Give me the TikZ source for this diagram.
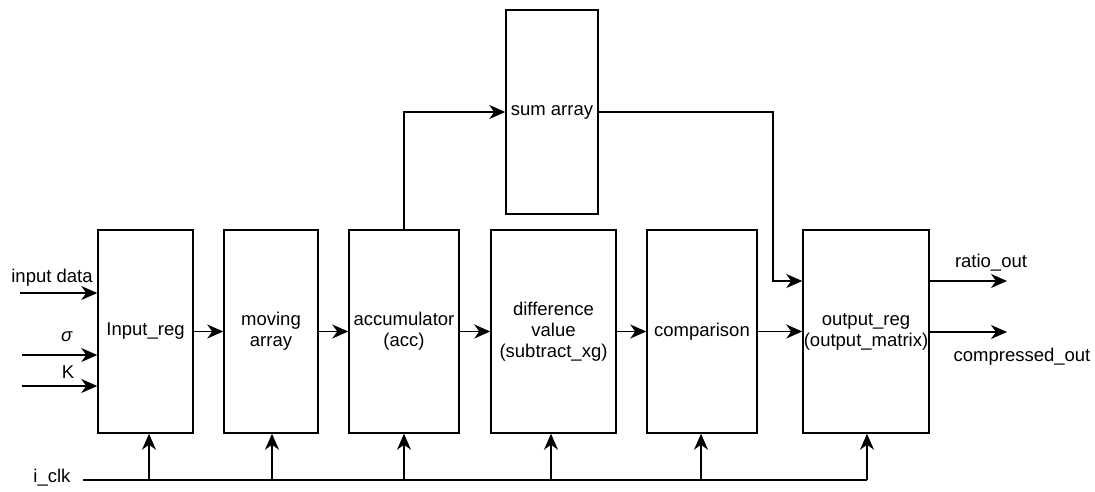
\documentclass[tikz,border=0pt]{standalone}
\usepackage{fontspec}
\setmainfont{Liberation Sans}
\usetikzlibrary{arrows.meta}
\begin{document}
\begin{tikzpicture}[x=1pt,y=-1pt,
  font=\fontsize{18.5}{21}\selectfont,
  blk/.style={draw,line width=1.5pt,rectangle,inner sep=0pt,minimum height=203pt,align=center},
  conn/.style={line width=1.5pt,-{Stealth[length=16pt,width=14pt,inset=5pt]}},
  wire/.style={line width=1.5pt},
  lbl/.style={inner sep=0pt,anchor=center}]
\useasboundingbox (0,0) rectangle (1095,491);
% blocks
\node[blk,minimum width=95pt]  (inreg) at (145.5,331.5) {Input\_reg};
\node[blk,minimum width=94pt]  (mov)   at (271,331.5)   {moving\\array};
\node[blk,minimum width=110pt] (acc)   at (404,331.5)   {accumulator\\(acc)};
\node[blk,minimum width=125pt] (diff)  at (553.5,331.5) {difference\\value\\(subtract\_xg)};
\node[blk,minimum width=110pt] (cmp)   at (702,331.5)   {comparison};
\node[blk,minimum width=126pt] (out)   at (866,331.5)   {output\_reg\\(output\_matrix)};
\node[blk,minimum width=92pt,minimum height=204pt] (sum) at (552,112) {sum array};
% labels
\node[lbl] (tin)  at (52,278)   {input data};
\node[lbl] (tsig) at (67,337)   {\textit{σ}};
\node[lbl] (tk)   at (68,372)   {K};
\node[lbl] (tclk) at (52,478)   {i\_clk};
\node[lbl] (trat) at (991,263)  {ratio\_out};
\node[lbl] (tcmp) at (1022,357) {compressed\_out};
% inputs
\coordinate (i1) at (20,293);
\coordinate (i2) at (22,355);
\coordinate (i3) at (22,386);
\draw[conn] (i1) -- (i1 -| inreg.west);
\draw[conn] (i2) -- (i2 -| inreg.west);
\draw[conn] (i3) -- (i3 -| inreg.west);
% chain
\draw[conn] (inreg.east) -- (mov.west);
\draw[conn] (mov.east) -- (acc.west);
\draw[conn] (acc.east) -- (diff.west);
\draw[conn] (diff.east) -- (cmp.west);
\draw[conn] (cmp.east) -- (out.west);
% sum array loop
\draw[conn] (acc.north) |- (sum.west);
\coordinate (c1) at (773,281);
\draw[conn] (sum.east) -| (c1) -- (c1 -| out.west);
% outputs
\coordinate (o1) at (1007,281);
\coordinate (o2) at (1007,332);
\draw[conn] (o1 -| out.east) -- (o1);
\draw[conn] (o2 -| out.east) -- (o2);
% clock
\coordinate (k0) at (83,480);
\coordinate (k1) at (149,480);
\coordinate (k2) at (272,480);
\coordinate (k3) at (404,480);
\coordinate (k4) at (551,480);
\coordinate (k5) at (701,480);
\coordinate (k6) at (867,480);
\draw[wire] (k0) -- (k6);
\draw[conn] (k1) -- (k1 |- inreg.south);
\draw[conn] (k2) -- (k2 |- mov.south);
\draw[conn] (k3) -- (k3 |- acc.south);
\draw[conn] (k4) -- (k4 |- diff.south);
\draw[conn] (k5) -- (k5 |- cmp.south);
\draw[conn] (k6) -- (k6 |- out.south);
\end{tikzpicture}
\end{document}
